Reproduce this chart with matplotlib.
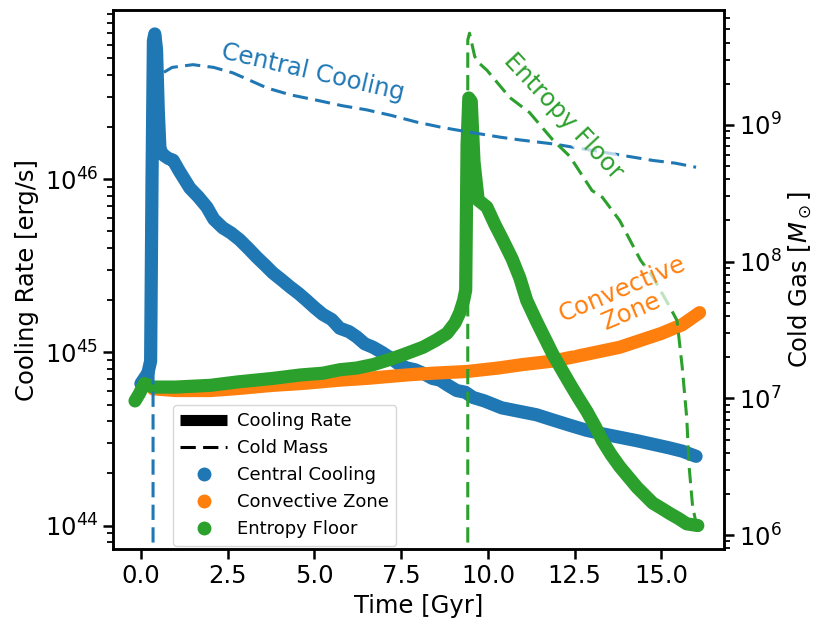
import matplotlib
matplotlib.use("Agg")
import matplotlib.pyplot as plt
from matplotlib.lines import Line2D
from matplotlib.ticker import MultipleLocator
import numpy as np

# cooling rates, log10 [erg/s]
cc_t = [0.0, 0.1, 0.2, 0.28, 0.32, 0.36, 0.40, 0.45, 0.50, 0.55, 0.65, 0.8, 0.93, 1.1,
        1.41, 1.65, 1.9, 2.1, 2.36, 2.6, 2.85, 3.1, 3.34, 3.6, 3.8, 4.05, 4.29, 4.55,
        4.78, 5.0, 5.24, 5.5, 5.73, 6.0, 6.22, 6.45, 6.69, 6.95, 7.18, 7.45, 7.67,
        7.9, 8.13, 8.4, 8.62, 8.85, 9.1, 9.35, 9.57, 9.9, 10.4, 10.9, 11.4, 11.87,
        12.35, 12.85, 13.3, 13.8, 14.3, 14.75, 15.2, 15.6, 16.0]
cc_rate = [44.82, 44.85, 44.88, 44.95, 46.0, 46.8, 46.84, 46.75, 46.4, 46.17, 46.14, 46.12,
           46.11, 46.05, 45.95, 45.9, 45.84, 45.77, 45.72, 45.69, 45.65, 45.6, 45.55,
           45.5, 45.46, 45.42, 45.38, 45.34, 45.3, 45.26, 45.22, 45.19, 45.14, 45.12,
           45.09, 45.05, 45.03, 45.0, 44.97, 44.93, 44.91, 44.9, 44.88, 44.85, 44.84,
           44.81, 44.78, 44.77, 44.74, 44.72, 44.68, 44.66, 44.64, 44.61, 44.58, 44.55,
           44.53, 44.51, 44.49, 44.47, 44.45, 44.43, 44.40]

cz_t = [0.35, 1.0, 2.0, 2.7, 3.8, 4.6, 5.73, 6.5, 7.67, 8.4, 9.4, 10.3, 11.0, 11.87,
        12.85, 13.8, 14.4, 15.0, 15.6, 16.1]
cz_rate = [44.79, 44.78, 44.78, 44.79, 44.81, 44.82, 44.84, 44.85, 44.87, 44.88, 44.89,
           44.91, 44.93, 44.95, 44.99, 45.03, 45.07, 45.11, 45.16, 45.23]

ef_t = [-0.17, -0.05, 0.1, 0.35, 1.0, 2.0, 2.8, 3.8, 4.6, 5.24, 5.73, 6.22, 6.7, 7.18,
        7.6, 8.13, 8.5, 8.82, 9.05, 9.19, 9.3, 9.36, 9.40, 9.45, 9.52, 9.6, 9.72, 9.97,
        10.2, 10.43, 10.7, 10.92, 11.12, 11.4, 11.87, 12.1, 12.36, 12.6, 12.85, 13.1,
        13.3, 13.55, 13.8, 14.05, 14.3, 14.55, 14.75, 15.0, 15.24, 15.5, 15.73, 16.05]
ef_rate = [44.72, 44.76, 44.82, 44.80, 44.80, 44.81, 44.83, 44.85, 44.87, 44.88, 44.90,
           44.91, 44.93, 44.96, 44.99, 45.03, 45.07, 45.11, 45.17, 45.23, 45.3, 45.36,
           46.2, 46.47, 46.45, 46.1, 45.88, 45.84, 45.74, 45.65, 45.54, 45.43, 45.30,
           45.18, 44.99, 44.91, 44.82, 44.74, 44.66, 44.57, 44.49, 44.41, 44.34, 44.28,
           44.22, 44.17, 44.13, 44.10, 44.07, 44.04, 44.01, 44.00]

# cold gas mass, log10 [Msun]
cc_mass_t = [0.35, 0.35, 0.5, 0.9, 1.5, 2.1, 2.65, 3.1, 3.63, 4.3, 5.07, 5.8, 6.5, 7.2,
             7.95, 8.7, 9.39, 10.35, 10.92, 11.9, 12.85, 13.8, 14.75, 15.4, 16.0]
cc_mass = [5.0, 9.29, 9.36, 9.42, 9.44, 9.42, 9.38, 9.33, 9.27, 9.22, 9.18, 9.14, 9.11,
           9.07, 9.02, 8.98, 8.95, 8.91, 8.89, 8.86, 8.82, 8.78, 8.74, 8.72, 8.69]

ef_mass_t = [9.42, 9.42, 9.47, 9.55, 9.62, 9.75, 9.97, 10.3, 10.63, 11.2, 11.87, 12.36,
             13.0, 13.3, 13.8, 14.4, 14.75, 15.24, 15.45, 15.6, 15.73, 15.8, 15.9, 16.0]
ef_mass = [5.0, 9.62, 9.67, 9.58, 9.50, 9.45, 9.40, 9.30, 9.20, 9.09, 8.89, 8.77, 8.52,
           8.47, 8.30, 8.01, 7.89, 7.67, 7.57, 7.23, 6.86, 6.50, 6.21, 6.09]

fig = plt.figure(figsize=(8.32, 6.32), dpi=100)
ax = fig.add_axes([0.136, 0.131, 0.734, 0.853])
ax2 = ax.twinx()

rate_kw = dict(lw=9.5, solid_capstyle='round', solid_joinstyle='round')
ax.plot(cc_t, 10**np.array(cc_rate), color='C0', **rate_kw)
ax.plot(cz_t, 10**np.array(cz_rate), color='C1', **rate_kw)
ax.plot(ef_t, 10**np.array(ef_rate), color='C2', **rate_kw)

ax2.plot(cc_mass_t, 10**np.array(cc_mass), color='C0', ls='--', lw=2.2, dashes=(5, 2.4))
ax2.plot(ef_mass_t, 10**np.array(ef_mass), color='C2', ls='--', lw=2.2, dashes=(5, 2.4))

ax.set_yscale('log')
ax2.set_yscale('log')
ax.set_xlim(-0.8, 16.8)
ax.set_ylim(7.3e43, 9.5e46)
ax2.set_ylim(7.9e5, 6.9e9)
ax.xaxis.set_major_locator(MultipleLocator(2.5))

ax.set_xlabel('Time [Gyr]', fontsize=17.5)
ax.set_ylabel('Cooling Rate [erg/s]', fontsize=17.5)
ax2.set_ylabel(r'Cold Gas [$M_\odot$]', fontsize=17.5)

for a in (ax, ax2):
    a.tick_params(which='major', labelsize=17.5, length=7.2, width=1.8)
    a.tick_params(which='minor', length=4.3, width=1.3)
    for s in a.spines.values():
        s.set_linewidth(1.8)

box = dict(facecolor='white', edgecolor='none', alpha=0.7, pad=1)
ax2.text(4.96, 2.4e9, 'Central Cooling', color='C0', fontsize=17.5, rotation=-13,
         ha='center', va='center', bbox=box)
ax2.text(12.16, 1.15e9, 'Entropy Floor', color='C2', fontsize=17.5, rotation=-47,
         ha='center', va='center', bbox=box)
ax2.text(14.0, 5.2e7, 'Convective\nZone', color='C1', fontsize=17.5, rotation=23,
         ha='center', va='center', bbox=box, linespacing=1.0)

handles = [Line2D([], [], color='k', lw=8, solid_capstyle='butt'),
           Line2D([], [], color='k', ls='--', lw=2.2, dashes=(5, 2.4)),
           Line2D([], [], color='C0', marker='o', ls='', ms=9),
           Line2D([], [], color='C1', marker='o', ls='', ms=9),
           Line2D([], [], color='C2', marker='o', ls='', ms=9)]
labels = ['Cooling Rate', 'Cold Mass', 'Central Cooling', 'Convective Zone', 'Entropy Floor']
ax2.legend(handles, labels, loc='lower left', bbox_to_anchor=(0.092, 0.0), fontsize=13,
           handlelength=2.6, handletextpad=0.55, borderaxespad=0.2)

fig.savefig('out.png', dpi=100)
